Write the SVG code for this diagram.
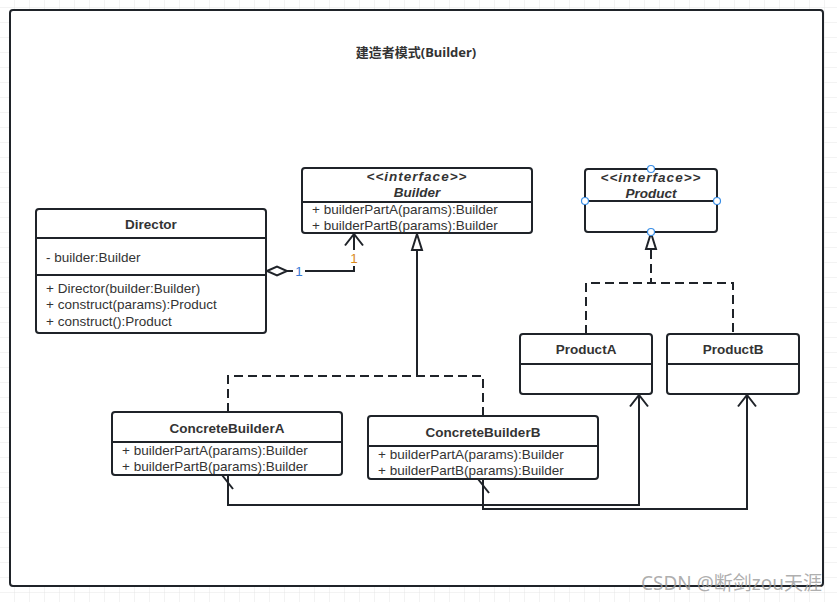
<svg xmlns="http://www.w3.org/2000/svg" width="837" height="602" viewBox="0 0 837 602">
<defs>
<pattern id="grid" x="0" y="8" width="15" height="15" patternUnits="userSpaceOnUse">
<path d="M15 0V15M0 15H15" fill="none" stroke="#e6e6e6" stroke-width="1"/>
</pattern>
<marker id="open" viewBox="0 0 14 20" refX="12.5" refY="10" markerWidth="14" markerHeight="20" markerUnits="userSpaceOnUse" orient="auto">
<path d="M1 1 L12.5 10 L1 19" fill="none" stroke="#1f2329" stroke-width="2"/>
</marker>
</defs>
<style>
.box{fill:#fff;stroke:#1f2329;stroke-width:2}
.div{stroke:#1f2329;stroke-width:2}
.ln{fill:none;stroke:#1f2329;stroke-width:2}
.dash{fill:none;stroke:#1f2329;stroke-width:2;stroke-dasharray:9 5}
.t{font-family:"Liberation Sans","Noto Sans CJK SC",sans-serif;font-size:13.5px;fill:#333}
.b{font-weight:bold;text-anchor:middle}
.i{font-style:italic;font-weight:bold;text-anchor:middle}
.st{letter-spacing:1px}
.h{fill:#fff;stroke:#3a8ee6;stroke-width:1.2}
</style>
<rect width="837" height="602" fill="#fff"/>
<rect width="837" height="602" fill="url(#grid)"/>
<rect x="10" y="10" width="813" height="576" rx="3" fill="#fff" stroke="#1f2329" stroke-width="2"/>
<text class="t b" x="416" y="57" style="font-family:'Noto Sans','Noto Sans CJK SC',sans-serif;font-size:13px">建造者模式(Builder)</text>

<g id="connectors">
<!-- aggregation Director -> Builder -->
<path class="ln" d="M286 271 H293 M305 271 H354 V266"/>
<path class="ln" d="M354 250 V234" marker-end="url(#open)"/>
<path d="M267 271 L277 266.5 L287 271 L277 275.5 Z" fill="#fff" stroke="#1f2329" stroke-width="2"/>
<text class="t" x="299" y="276" text-anchor="middle" style="fill:#3a7bd5">1</text>
<text class="t" x="354" y="263" text-anchor="middle" style="fill:#d98a1c">1</text>
<!-- generalization builders -> Builder -->
<path class="ln" d="M417 250 V376"/>
<path class="dash" d="M228 412 V376 H483 V416"/>
<path d="M417 234 L412 250 H422 Z" fill="#fff" stroke="#1f2329" stroke-width="2"/>
<!-- realization products -> Product -->
<path class="dash" d="M651 250 V283"/>
<path class="dash" d="M586 334 V283 H733 V334"/>
<path d="M651 233 L646 249 H656 Z" fill="#fff" stroke="#1f2329" stroke-width="2"/>
<!-- dependencies -->
<path class="ln" d="M228 475 V505 H639 V395" marker-end="url(#open)"/>
<path class="ln" d="M222 475 L233 489"/>
<path class="ln" d="M483 479 V509 H747 V395" marker-end="url(#open)"/>
<path class="ln" d="M478 479 L489 493"/>
</g>

<g id="builder">
<rect class="box" x="302" y="168" width="230" height="65" rx="3"/>
<line class="div" x1="302" y1="202" x2="532" y2="202"/>
<text class="t i st" x="417" y="181">&lt;&lt;interface&gt;&gt;</text>
<text class="t i" x="417" y="197">Builder</text>
<text class="t" x="312" y="214">+ builderPartA(params):Builder</text>
<text class="t" x="312" y="230">+ builderPartB(params):Builder</text>
</g>

<g id="product">
<rect class="box" x="585" y="169" width="132" height="63" rx="3"/>
<line class="div" x1="585" y1="201" x2="717" y2="201"/>
<text class="t i st" x="651" y="182">&lt;&lt;interface&gt;&gt;</text>
<text class="t i" x="651" y="198">Product</text>
<circle class="h" cx="651" cy="169" r="3.5"/>
<circle class="h" cx="585" cy="201" r="3.5"/>
<circle class="h" cx="717" cy="201" r="3.5"/>
<circle class="h" cx="651" cy="232" r="3.5"/>
</g>

<g id="director">
<rect class="box" x="36" y="209" width="230" height="124" rx="3"/>
<line class="div" x1="36" y1="238" x2="266" y2="238"/>
<line class="div" x1="36" y1="275" x2="266" y2="275"/>
<text class="t b" x="151" y="229">Director</text>
<text class="t" x="46" y="262">- builder:Builder</text>
<text class="t" x="46" y="293">+ Director(builder:Builder)</text>
<text class="t" x="46" y="309">+ construct(params):Product</text>
<text class="t" x="46" y="326">+ construct():Product</text>
</g>

<g id="concreteBuilderA">
<rect class="box" x="112" y="412" width="230" height="63" rx="3"/>
<line class="div" x1="112" y1="442" x2="342" y2="442"/>
<text class="t b" x="227" y="433">ConcreteBuilderA</text>
<text class="t" x="122" y="455">+ builderPartA(params):Builder</text>
<text class="t" x="122" y="471">+ builderPartB(params):Builder</text>
</g>

<g id="concreteBuilderB">
<rect class="box" x="368" y="416" width="230" height="63" rx="3"/>
<line class="div" x1="368" y1="446" x2="598" y2="446"/>
<text class="t b" x="483" y="437">ConcreteBuilderB</text>
<text class="t" x="378" y="459">+ builderPartA(params):Builder</text>
<text class="t" x="378" y="475">+ builderPartB(params):Builder</text>
</g>

<g id="productA">
<rect class="box" x="520" y="334" width="132" height="60" rx="3"/>
<line class="div" x1="520" y1="364" x2="652" y2="364"/>
<text class="t b" x="586" y="354">ProductA</text>
</g>

<g id="productB">
<rect class="box" x="667" y="334" width="132" height="60" rx="3"/>
<line class="div" x1="667" y1="364" x2="799" y2="364"/>
<text class="t b" x="733" y="354">ProductB</text>
</g>

<text x="822" y="590" text-anchor="end" font-family="'Noto Sans','Noto Sans CJK SC',sans-serif" font-size="19" fill="#999" fill-opacity="0.8">CSDN @断剑zou天涯</text>
</svg>
